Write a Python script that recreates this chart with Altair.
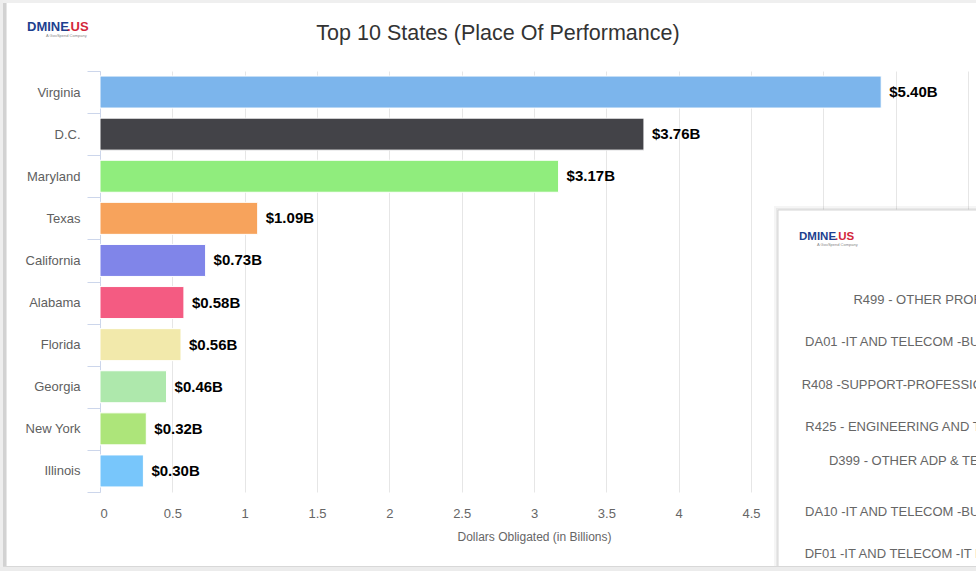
import altair as alt
import pandas as pd

# ---------------- data ----------------
states = ["Virginia", "D.C.", "Maryland", "Texas", "California",
          "Alabama", "Florida", "Georgia", "New York", "Illinois"]
values = [5.40, 3.76, 3.17, 1.09, 0.73, 0.58, 0.56, 0.46, 0.32, 0.30]
bar_colors = ["#7cb5ec", "#434348", "#90ed7d", "#f7a35c", "#8085e9",
              "#f45b82", "#f2e9ab", "#aee8ac", "#ade57a", "#78c6fb"]
x_ticks = [0, 0.5, 1, 1.5, 2, 2.5, 3, 3.5, 4, 4.5, 5, 5.5, 6]
chart_title = "Top 10 States (Place Of Performance)"
x_title = "Dollars Obligated (in Billions)"

# labels of the second (overlapping) panel
overlay_labels = [
    "R499 - OTHER PROFESSIONAL SERVICES",
    "DA01 -IT AND TELECOM -BUSINESS APPLICATION",
    "R408 -SUPPORT-PROFESSIONAL: PROGRAM MGT",
    "R425 - ENGINEERING AND TECHNICAL SERVICES",
    "D399 - OTHER ADP & TELECOMMUNICATIONS\nSERVICES",
    "DA10 -IT AND TELECOM -BUSINESS APPLICATION",
    "DF01 -IT AND TELECOM -IT MANAGEMENT SUPPT",
]
two_line_label = overlay_labels[4]

FONT = "Liberation Sans"
W, H = 868, 421
PAD = {"left": 100, "top": 71, "right": 8, "bottom": 79}

df = pd.DataFrame({"state": states, "value": values})
one = alt.Data(values=[{"k": 0}])

# ---------------- main bar chart ----------------
x_enc = alt.X(
    "value:Q",
    scale=alt.Scale(domain=[0, 6], nice=False, zero=True),
    axis=alt.Axis(values=x_ticks, format="~g", grid=True, gridColor="#e6e6e6",
                  labelExpr="datum.value > 4.75 ? '' : datum.label",
                  domain=False, ticks=False, labelColor="#666666", labelFontSize=13,
                  labelFont=FONT, labelPadding=15, title=x_title,
                  titleColor="#666666", titleFontSize=12, titleFont=FONT,
                  titleFontWeight="normal", titlePadding=11, zindex=0),
)
y_enc = alt.Y(
    "state:N",
    scale=alt.Scale(domain=states, paddingInner=0, paddingOuter=0),
    axis=alt.Axis(title=None, domain=True, domainColor="#ccd6eb", ticks=True,
                  tickColor="#ccd6eb", tickSize=13, tickBand="extent",
                  labelColor="#606060", labelFontSize=13, labelFont=FONT,
                  labelPadding=7, grid=False, zindex=0),
)

bars = alt.Chart(df).mark_bar(
    height=alt.RelativeBandSize(0.76), stroke="white", strokeWidth=1
).encode(
    x=x_enc, y=y_enc,
    color=alt.Color("state:N", scale=alt.Scale(domain=states, range=bar_colors), legend=None),
)

value_text = alt.Chart(df).transform_calculate(
    label="'$' + format(datum.value, '.2f') + 'B'"
).mark_text(
    align="left", baseline="middle", dx=8, font=FONT, fontSize=15,
    fontWeight="bold", color="#000000"
).encode(x=x_enc, y=y_enc, text="label:N")

main = alt.layer(bars, value_text)


def rect(x, x2, y, y2, **kw):
    return alt.Chart(one).mark_rect(**kw).encode(
        x=alt.value(x), x2=alt.value(x2), y=alt.value(y), y2=alt.value(y2))


def txt(s, x, y, align="left", **kw):
    return alt.Chart(one).mark_text(text=s, align=align, baseline="alphabetic",
                                    font=FONT, **kw).encode(
        x=alt.value(x), y=alt.value(y))


title_mark = txt(chart_title, 398, -31, align="center", fontSize=21.5, color="#333333")

# ---------------- overlapping panel ----------------
shadow1 = rect(674, 900, 135, 520, fill="#000000", opacity=0.04)
shadow2 = rect(676, 900, 137, 520, fill="#000000", opacity=0.05)
panel = rect(678, 900, 139, 520, fill="#ffffff", stroke="#d6d6d6", strokeWidth=1)
o_logo1 = txt("DMINE", 699, 169, fontSize=11.5, fontWeight="bold", color="#1d3f8f")
o_logo2 = txt(".US", 735, 169, fontSize=11.5, fontWeight="bold", color="#d3273a")
o_logo3 = txt("A GovSpend Company", 717, 175, fontSize=4, color="#888888")

o_scale = alt.Scale(type="point", domain=overlay_labels, range=[229, 483], padding=0)
o_df = pd.DataFrame({"olabel": overlay_labels})


def overlay_layer(cond, dy):
    return alt.Chart(o_df).transform_filter(cond).mark_text(
        align="right", baseline="middle", font=FONT, fontSize=13, color="#666666",
        lineBreak="\n", lineHeight=16, dy=dy
    ).encode(
        x=alt.value(1015),
        y=alt.Y("olabel:N", scale=o_scale, axis=None),
        text="olabel:N",
    )


ov_single = overlay_layer(alt.datum.olabel != two_line_label, 0)
ov_double = overlay_layer(alt.datum.olabel == two_line_label, -8)

# ---------------- card edges + logo ----------------
edge_left1 = rect(-100, -97, -71, 500, fill="#eeeeee")
edge_left2 = rect(-97, -94, -68, 496, fill="#d2d2d2")
edge_left3 = rect(-94, -93, -68, 496, fill="#e6e6e6")
edge_top = rect(-97, 900, -71, -68, fill="#efefef")
edge_bot = rect(-100, 900, 496, 500, fill="#ececec")
edge_bot2 = rect(-97, 900, 495, 496, fill="#d8d8d8")

logo1 = txt("DMINE", -73, -40, fontSize=13, fontWeight="bold", color="#1d3f8f")
logo2 = txt(".US", -33, -40, fontSize=13, fontWeight="bold", color="#d3273a")
logo3 = txt("A GovSpend Company", -54, -34, fontSize=4, color="#888888")

chart = alt.layer(
    main, title_mark, shadow1, shadow2, panel, o_logo1, o_logo2, o_logo3,
    ov_single, ov_double,
    edge_left1, edge_left2, edge_left3, edge_top, edge_bot, edge_bot2,
    logo1, logo2, logo3,
).resolve_scale(y="independent").properties(
    width=W, height=H, padding=PAD,
    autosize=alt.AutoSizeParams(type="none"),
    background="#ffffff",
).configure_view(strokeWidth=0)

chart.save("out.html", embed_options={"renderer": "svg", "actions": False})
